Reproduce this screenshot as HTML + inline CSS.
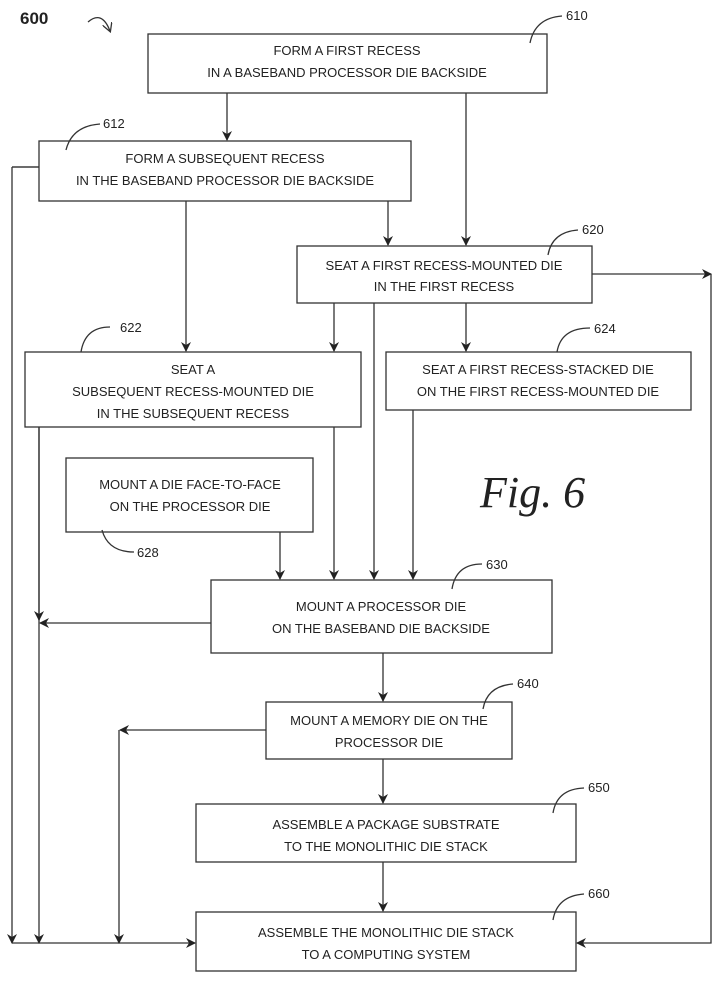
<!DOCTYPE html>
<html><head><meta charset="utf-8"><style>
body{margin:0;background:#fff}
svg text{font-family:"Liberation Sans",sans-serif;font-size:13px;fill:#222}
</style></head><body>
<svg width="721" height="980" viewBox="0 0 721 980" xmlns="http://www.w3.org/2000/svg">
<defs><marker id="a" markerWidth="10" markerHeight="10" refX="9" refY="5" orient="auto" markerUnits="userSpaceOnUse"><path d="M0,0 L10,5 L0,10 L3,5 Z" fill="#222"/></marker>
<marker id="b" markerWidth="10" markerHeight="10" refX="8" refY="5" orient="auto" markerUnits="userSpaceOnUse"><path d="M0,0 L9,5 L0,10" fill="none" stroke="#333" stroke-width="1.3"/></marker></defs>
<g fill="none" stroke="#333" stroke-width="1.3">
<rect x="148" y="34" width="399" height="59"/>
<rect x="39" y="141" width="372" height="60"/>
<rect x="297" y="246" width="295" height="57"/>
<rect x="25" y="352" width="336" height="75"/>
<rect x="386" y="352" width="305" height="58"/>
<rect x="66" y="458" width="247" height="74"/>
<rect x="211" y="580" width="341" height="73"/>
<rect x="266" y="702" width="246" height="57"/>
<rect x="196" y="804" width="380" height="58"/>
<rect x="196" y="912" width="380" height="59"/>
<g marker-end="url(#a)">
<path d="M227 93 V140"/>
<path d="M466 93 V245"/>
<path d="M186 201 V351"/>
<path d="M388 201 V245"/>
<path d="M592 274 H711"/>
<path d="M334 303 V351"/>
<path d="M466 303 V351"/>
<path d="M374 303 V579"/>
<path d="M334 427 V579"/>
<path d="M413 410 V579"/>
<path d="M280 532 V579"/>
<path d="M211 623 H40"/>
<path d="M383 653 V701"/>
<path d="M266 730 H120"/>
<path d="M383 759 V803"/>
<path d="M383 862 V911"/>
<path d="M39 427 V943"/>
<path d="M12 167 H39 M12 167 V943"/>
<path d="M119 730 V943"/>
<path d="M12 943 H195"/>
<path d="M711 274 V943 H577"/>
<path d="M39 427 V620"/>
</g>
<path d="M12 167 H39"/>
<path d="M88 22 Q102 10 110 31" marker-end="url(#b)"/>
<path d="M530 43 Q535 18 562 16"/>
<path d="M66 150 Q72 126 100 124"/>
<path d="M548 255 Q552 232 578 230"/>
<path d="M81 352 Q85 327 110 327"/>
<path d="M557 352 Q561 328 590 328"/>
<path d="M102 530 Q108 552 134 552"/>
<path d="M452 589 Q456 564 482 564"/>
<path d="M483 709 Q487 686 513 684"/>
<path d="M553 813 Q557 789 584 788"/>
<path d="M553 920 Q557 896 584 894"/>
</g>
<text x="20" y="24" style="font-weight:bold;font-size:17px">600</text>
<text x="566" y="20">610</text>
<text x="103" y="128">612</text>
<text x="582" y="234">620</text>
<text x="120" y="332">622</text>
<text x="594" y="333">624</text>
<text x="137" y="557">628</text>
<text x="486" y="569">630</text>
<text x="517" y="688">640</text>
<text x="588" y="792">650</text>
<text x="588" y="898">660</text>
<g text-anchor="middle">
<text x="347" y="55">FORM A FIRST RECESS</text>
<text x="347" y="77">IN A BASEBAND PROCESSOR DIE BACKSIDE</text>
<text x="225" y="163">FORM A SUBSEQUENT RECESS</text>
<text x="225" y="185">IN THE BASEBAND PROCESSOR DIE BACKSIDE</text>
<text x="444" y="270">SEAT A FIRST RECESS-MOUNTED DIE</text>
<text x="444" y="291">IN THE FIRST RECESS</text>
<text x="193" y="374">SEAT A</text>
<text x="193" y="396">SUBSEQUENT RECESS-MOUNTED DIE</text>
<text x="193" y="418">IN THE SUBSEQUENT RECESS</text>
<text x="538" y="374">SEAT A FIRST RECESS-STACKED DIE</text>
<text x="538" y="396">ON THE FIRST RECESS-MOUNTED DIE</text>
<text x="190" y="489">MOUNT A DIE FACE-TO-FACE</text>
<text x="190" y="511">ON THE PROCESSOR DIE</text>
<text x="381" y="611">MOUNT A PROCESSOR DIE</text>
<text x="381" y="633">ON THE BASEBAND DIE BACKSIDE</text>
<text x="389" y="725">MOUNT A MEMORY DIE ON THE</text>
<text x="389" y="747">PROCESSOR DIE</text>
<text x="386" y="829">ASSEMBLE A PACKAGE SUBSTRATE</text>
<text x="386" y="851">TO THE MONOLITHIC DIE STACK</text>
<text x="386" y="937">ASSEMBLE THE MONOLITHIC DIE STACK</text>
<text x="386" y="959">TO A COMPUTING SYSTEM</text>
</g>
<text x="480" y="507" style="font-family:'Liberation Serif',serif;font-style:italic;font-size:44px">Fig. 6</text>
</svg>
</body></html>
